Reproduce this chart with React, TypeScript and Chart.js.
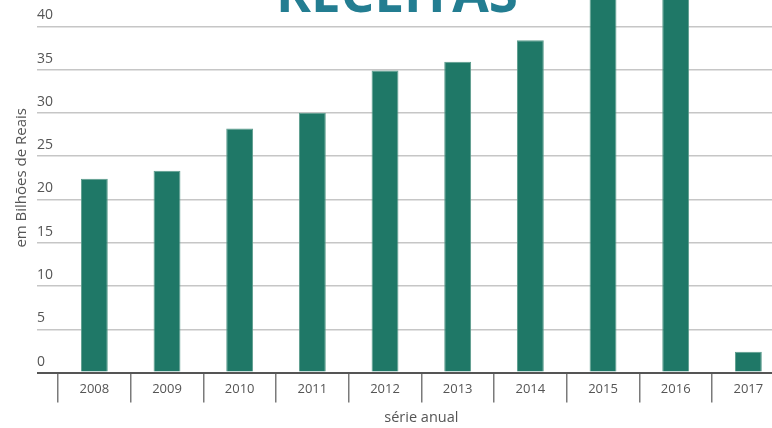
import { useEffect, useRef } from 'react';
import { Chart, registerables } from 'chart.js';

Chart.register(...registerables);

const categories = ['2008', '2009', '2010', '2011', '2012', '2013', '2014', '2015', '2016', '2017'];
const receitas = [22.4, 23.3, 28.2, 30.0, 34.9, 35.9, 38.4, 44.4, 44.8, 2.4];
const yMin = 0;
const yMax = 45;
const yStep = 5;
const chartTitle = 'RECEITAS';
const yAxisTitle = 'em Bilhões de Reais';
const xAxisTitle = 'série anual';

const bigTitlePlugin = {
  id: 'bigTitle',
  afterDraw(chart: any) {
    const ctx = chart.ctx;
    ctx.save();
    ctx.font = 'bold 53px "Open Sans"';
    ctx.fillStyle = '#237d91';
    ctx.textAlign = 'center';
    ctx.textBaseline = 'alphabetic';
    ctx.fillText(chartTitle, 397, 72);
    ctx.restore();
  },
};

export default function App() {
  const ref = useRef<HTMLCanvasElement | null>(null);

  useEffect(() => {
    if (!ref.current) return;
    const chart = new Chart(ref.current, {
      type: 'bar',
      data: {
        labels: categories,
        datasets: [
          {
            data: receitas,
            backgroundColor: '#1f7867',
            borderColor: '#5b9c8c',
            borderWidth: 1,
            barPercentage: 0.37,
            categoryPercentage: 1,
          },
        ],
      },
      options: {
        animation: false,
        responsive: false,
        layout: { padding: { top: 43, left: 0, right: 15.3, bottom: 0 } },
        plugins: {
          legend: { display: false },
          title: { display: false },
          tooltip: { enabled: false },
        },
        scales: {
          x: {
            afterFit: (scale: any) => {
              scale.height = 55.4;
            },
            border: { display: true, color: '#555555', width: 2 },
            grid: {
              offset: true,
              drawOnChartArea: false,
              drawTicks: true,
              tickLength: 30,
              color: '#7a7a7a',
              lineWidth: 1.5,
            },
            ticks: {
              padding: -21,
              color: '#555555',
              font: { family: '"Open Sans"', size: 13 },
            },
            title: {
              display: true,
              text: xAxisTitle,
              color: '#555555',
              font: { family: '"Open Sans"', size: 14.5 },
              padding: { top: 0, bottom: 1.5 },
            },
          },
          y: {
            min: yMin,
            max: yMax,
            afterFit: (scale: any) => {
              scale.width = 58;
            },
            border: { display: false },
            grid: {
              drawTicks: true,
              tickLength: 21,
              color: (c: any) => (c.tick && c.tick.value === 0 ? '#555555' : '#c6c6c6'),
              lineWidth: (c: any) => (c.tick && c.tick.value === 0 ? 2 : 1.5),
            },
            ticks: {
              stepSize: yStep,
              mirror: true,
              crossAlign: 'near',
              padding: -21,
              labelOffset: -11,
              color: '#555555',
              font: { family: '"Open Sans"', size: 14 },
            },
            title: {
              display: true,
              text: yAxisTitle,
              color: '#555555',
              font: { family: '"Open Sans"', size: 15 },
              padding: { top: 13, bottom: 0 },
            },
          },
        },
      },
      plugins: [bigTitlePlugin],
    });
    return () => chart.destroy();
  }, []);

  return (
    <div
      style={{
        position: 'fixed',
        left: 0,
        top: 0,
        width: 772,
        height: 428,
        overflow: 'hidden',
        background: '#ffffff',
      }}
    >
      <div style={{ position: 'absolute', left: 0, top: -60, width: 800, height: 488 }}>
        <canvas ref={ref} width={800} height={488} style={{ width: 800, height: 488 }} />
      </div>
    </div>
  );
}
